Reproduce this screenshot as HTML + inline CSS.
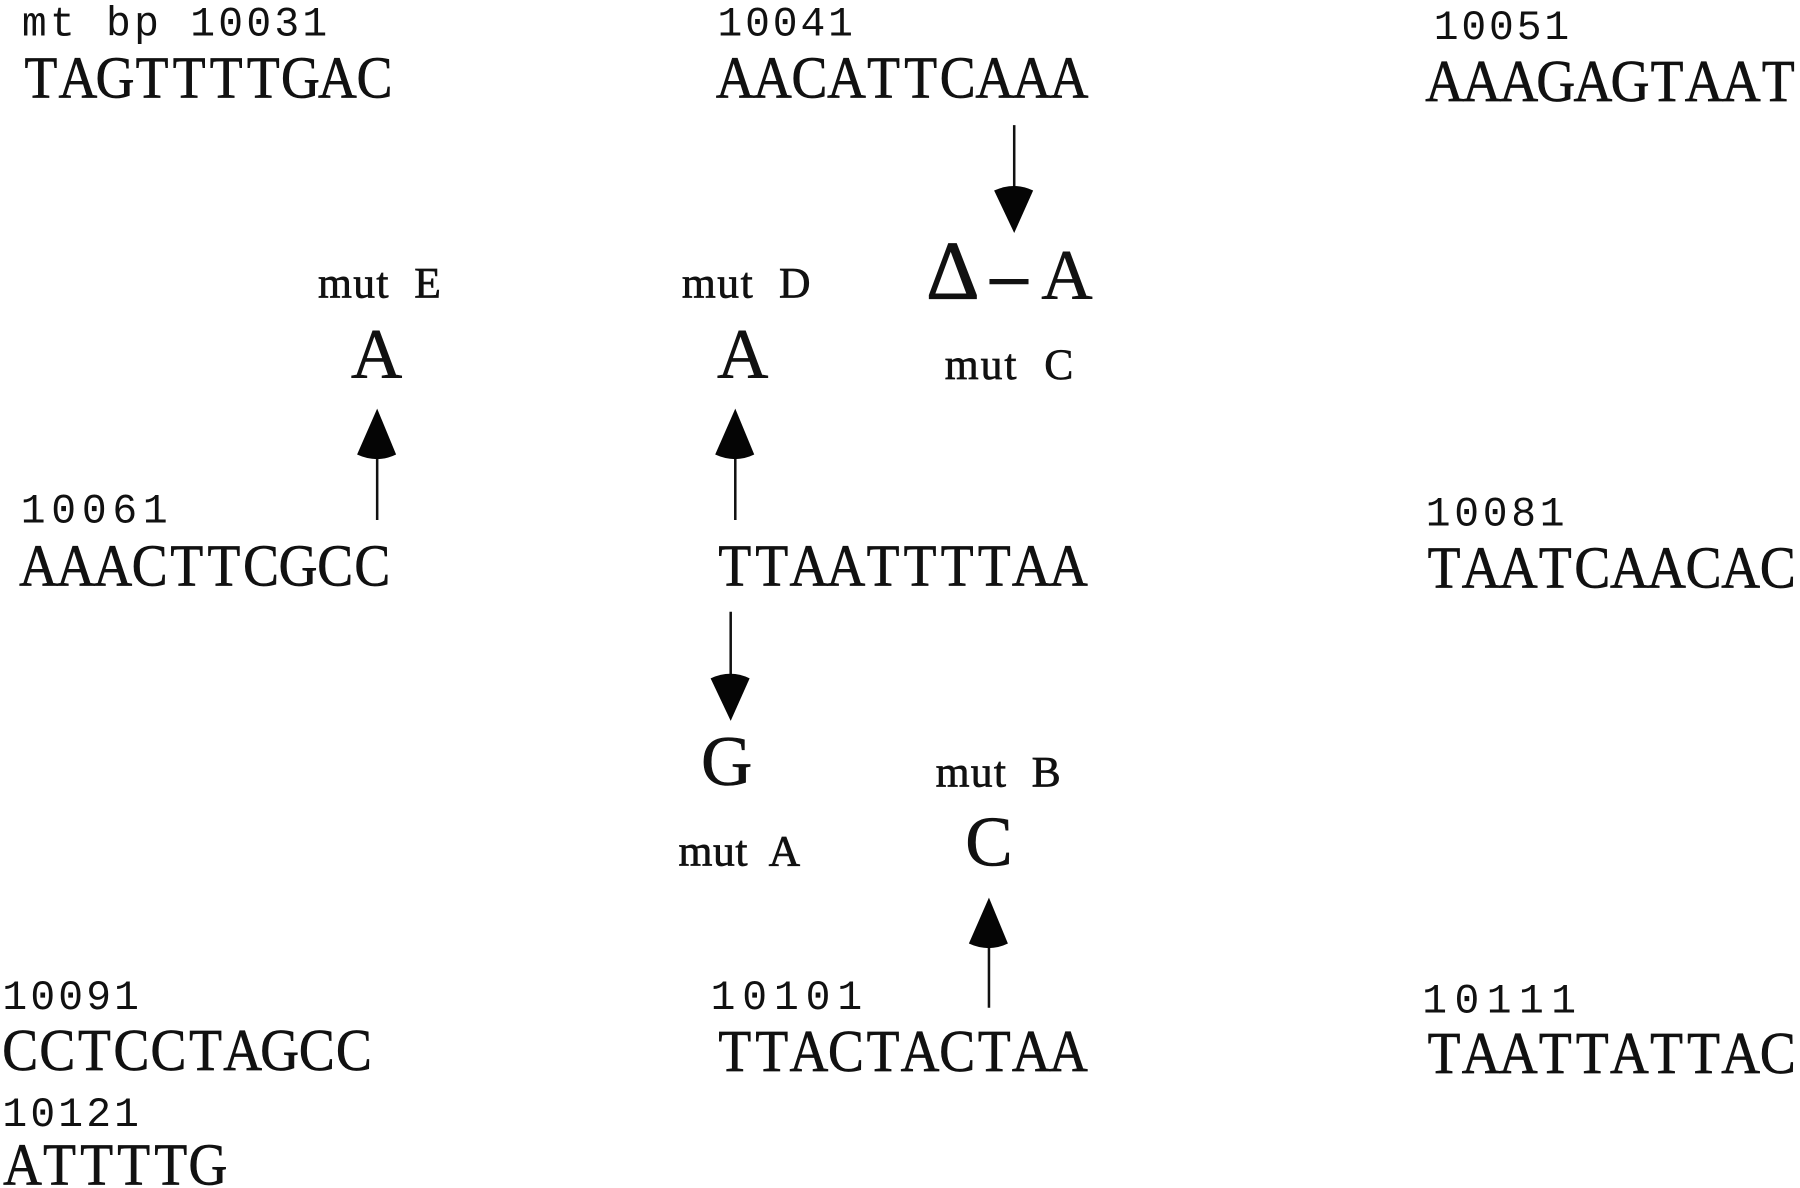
<!DOCTYPE html>
<html>
<head>
<meta charset="utf-8">
<style>
html,body{margin:0;padding:0;background:#fff}
svg{display:block}
.s{font-family:"Liberation Serif",serif;font-size:52px;fill:#111;stroke:#111;stroke-width:.6;text-anchor:middle}
.n{font-family:"Liberation Mono",monospace;font-size:36px;fill:#111}
.m{font-family:"Liberation Serif",serif;font-size:38px;fill:#111;stroke:#111;stroke-width:.6}
.b{font-family:"Liberation Serif",serif;font-size:62px;fill:#111;stroke:#111;stroke-width:.5;text-anchor:middle}
.l{stroke:#111;stroke-width:2.2;fill:none}
.h{fill:#050505}
</style>
</head>
<body>
<svg xmlns="http://www.w3.org/2000/svg" width="1800" height="1188" viewBox="0 0 1568 1035">
<rect width="1568" height="1035" fill="#fff"/>

<text class="n" x="19" y="31" textLength="266" lengthAdjust="spacing" xml:space="preserve">mt bp 10031</text>
<text class="s" transform="translate(19.5 85) scale(.9 1)" x="17.8 53.7 89.6 125.4 161.3 197.2 233.1 269 304.9 340.8">TAGTTTTGAC</text>
<text class="n" x="625" y="31" textLength="118" lengthAdjust="spacing">10041</text>
<text class="s" transform="translate(624.5 85) scale(.9 1)" x="17.8 53.7 89.6 125.4 161.3 197.2 233.1 269 304.9 340.8">AACATTCAAA</text>
<text class="n" x="1249" y="34" textLength="118" lengthAdjust="spacing">10051</text>
<text class="s" transform="translate(1242.5 88) scale(.9 1)" x="17.8 53.7 89.6 125.4 161.3 197.2 233.1 269 304.9 340.8">AAAGAGTAAT</text>

<text class="n" x="18" y="455" textLength="128" lengthAdjust="spacing">10061</text>
<text class="s" transform="translate(17.5 510) scale(.9 1)" x="17.8 53.7 89.6 125.4 161.3 197.2 233.1 269 304.9 340.8">AAACTTCGCC</text>
<text class="s" transform="translate(624 510) scale(.9 1)" x="17.8 53.7 89.6 125.4 161.3 197.2 233.1 269 304.9 340.8">TTAATTTTAA</text>
<text class="n" x="1242" y="458" textLength="121" lengthAdjust="spacing">10081</text>
<text class="s" transform="translate(1242 512) scale(.9 1)" x="17.8 53.7 89.6 125.4 161.3 197.2 233.1 269 304.9 340.8">TAATCAACAC</text>

<text class="n" x="2" y="879" textLength="119" lengthAdjust="spacing">10091</text>
<text class="s" transform="translate(1.5 932) scale(.9 1)" x="17.8 53.7 89.6 125.4 161.3 197.2 233.1 269 304.9 340.8">CCTCCTAGCC</text>
<text class="n" x="619" y="879" textLength="132" lengthAdjust="spacing">10101</text>
<text class="s" transform="translate(624 933) scale(.9 1)" x="17.8 53.7 89.6 125.4 161.3 197.2 233.1 269 304.9 340.8">TTACTACTAA</text>
<text class="n" x="1239" y="882" textLength="134" lengthAdjust="spacing">10111</text>
<text class="s" transform="translate(1242 935) scale(.9 1)" x="17.8 53.7 89.6 125.4 161.3 197.2 233.1 269 304.9 340.8">TAATTATTAC</text>
<text class="n" x="2" y="981" textLength="119" lengthAdjust="spacing">10121</text>
<text class="s" transform="translate(3.5 1032) scale(.9 1)" x="17.8 53.7 89.6 125.4 161.3 197.2">ATTTTG</text>

<text class="m" x="277" y="259" textLength="107" lengthAdjust="spacing" xml:space="preserve">mut  E</text>
<text class="m" x="594" y="259" textLength="112" lengthAdjust="spacing" xml:space="preserve">mut  D</text>
<text class="m" x="823" y="330" textLength="112" lengthAdjust="spacing" xml:space="preserve">mut  C</text>
<text class="m" x="815" y="685" textLength="109" lengthAdjust="spacing" xml:space="preserve">mut  B</text>
<text class="m" x="591" y="754" textLength="106" lengthAdjust="spacing" xml:space="preserve">mut  A</text>

<text class="b" x="328" y="329">A</text>
<text class="b" x="647" y="329">A</text>
<text class="b" x="929.5" y="260">A</text>
<text class="b" x="633" y="684">G</text>
<text class="b" x="861.5" y="754">C</text>
<text x="830" y="260" text-anchor="middle" font-family="'Liberation Serif',serif" font-size="72" fill="#111" stroke="#111" stroke-width="1">Δ</text>
<text x="863" y="261" font-family="'Liberation Serif',serif" font-size="66" fill="#111" stroke="#111" stroke-width="1.2" textLength="32" lengthAdjust="spacingAndGlyphs">–</text>

<line class="l" x1="883.5" y1="109" x2="883.5" y2="170"/>
<path class="h" d="M866 166Q883.5 158 900 166L883.5 203Z"/>
<line class="l" x1="636.5" y1="533" x2="636.5" y2="595"/>
<path class="h" d="M619 591Q636.5 583 653 591L636.5 628Z"/>
<line class="l" x1="328.5" y1="453" x2="328.5" y2="392"/>
<path class="h" d="M311 396Q328.5 404 345 396L328.5 356Z"/>
<line class="l" x1="640.5" y1="453" x2="640.5" y2="392"/>
<path class="h" d="M623 396Q640.5 404 657 396L640.5 356Z"/>
<line class="l" x1="861.5" y1="878" x2="861.5" y2="818"/>
<path class="h" d="M844 822Q861.5 830 878 822L861.5 782Z"/>
</svg>
</body>
</html>
